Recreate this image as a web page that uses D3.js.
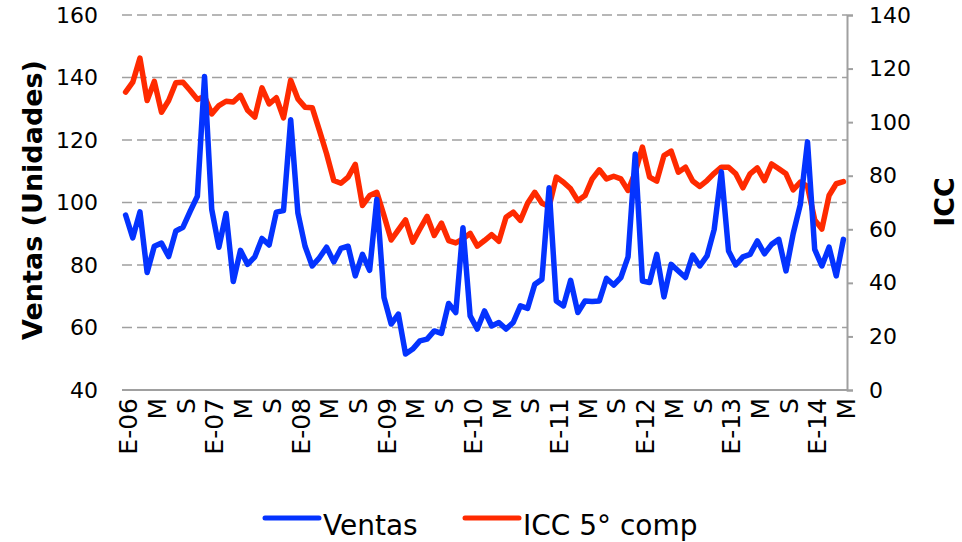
<!DOCTYPE html>
<html>
<head>
<meta charset="utf-8">
<script src="https://cdn.jsdelivr.net/npm/d3@7"></script>
<style>
  body { margin: 0; background: #fff; }
  text { font-family: "DejaVu Sans", sans-serif; fill: #000; }
</style>
</head>
<body>
<div id="chart"></div>
<script>
// monthly data, Jan 2006 .. May 2014
const ventas = [96, 88.7, 97, 77.6, 86, 87, 82.7, 90.9, 92.1, 97.2, 102, 140.3,
    97.8, 85.7, 96.5, 74.7, 84.7, 80.2, 82.6, 88.5, 86.4, 96.9, 97.4, 126.5,
    96.7, 86, 79.7, 82.3, 85.7, 81, 85.3, 86, 76.5, 83.4, 78.3, 101,
    69.6, 61.1, 64.3, 51.5, 53.1, 55.7, 56.3, 58.9, 58.1, 67.7, 64.8, 91.9,
    63.7, 59.5, 65.3, 60.5, 61.6, 59.5, 61.6, 66.9, 66.1, 73.8, 75.4, 104.7,
    68.5, 66.9, 75.1, 64.8, 68.5, 68.3, 68.5, 75.7, 73.6, 76, 82.6, 115.5,
    74.9, 74.4, 83.4, 69.8, 80.2, 78.1, 76, 83.2, 79.7, 82.9, 91.4, 109.8,
    84.5, 80, 82.6, 83.4, 87.7, 83.6, 86.6, 88.2, 78.1, 90, 99.4, 119.4,
    85, 79.7, 85.7, 76.5, 88.2];

const icc = [111.2, 114.9, 123.9, 108.1, 115.2, 103.7, 108.1, 114.7, 114.9, 111.8, 108.5, 109.6,
    103.1, 106.2, 107.8, 107.5, 110.0, 104.4, 101.9, 112.8, 106.8, 109.1, 101.6, 115.6,
    108.7, 105.6, 105.4, 96.9, 88.2, 78.2, 77.2, 79.5, 84.2, 68.9, 72.6, 73.8,
    65.1, 56.0, 59.8, 63.5, 55.2, 60.1, 64.8, 57.7, 62.3, 55.8, 54.9, 56.4,
    58.5, 53.7, 55.8, 58.0, 55.5, 64.5, 66.4, 63.3, 69.7, 73.8, 69.7, 68.5,
    79.5, 77.6, 75.1, 70.7, 72.6, 78.8, 82.2, 78.8, 79.8, 78.8, 74.5, 81.3,
    90.7, 79.5, 78.0, 87.5, 89.2, 81.3, 83.2, 78.0, 76.0, 78.2, 80.9, 83.2,
    83.2, 80.7, 75.5, 80.7, 82.9, 78.2, 84.4, 82.6, 80.7, 74.7, 77.6, 76.0,
    63.5, 60.1, 72.6, 77.0, 77.8];

// one label every 4 months (E = enero, M = mayo, S = septiembre)
const tickLabels = ["E-06", "M", "S", "E-07", "M", "S", "E-08", "M", "S", "E-09", "M", "S",
    "E-10", "M", "S", "E-11", "M", "S", "E-12", "M", "S", "E-13", "M", "S", "E-14", "M"];

const leftTicks = [40, 60, 80, 100, 120, 140, 160];
const rightTicks = [0, 20, 40, 60, 80, 100, 120, 140];

const width = 962;
const height = 542;
const plotL = 122, plotR = 847, plotT = 15, plotB = 390;
const blue = "#0433ff";
const red = "#ff2a00";
const gridColor = "#a0a0a0";

const svg = d3.select("#chart").append("svg")
    .attr("width", width)
    .attr("height", height);

const months = d3.range(ventas.length);

const x = d3.scalePoint()
    .domain(months)
    .range([plotL, plotR])
    .padding(0.5);

const yL = d3.scaleLinear().domain([40, 160]).range([plotB, plotT]);
const yR = d3.scaleLinear().domain([0, 140]).range([plotB, plotT]);

// dashed gridlines
svg.append("g")
    .selectAll("line")
    .data(leftTicks.slice(1))
    .join("line")
    .attr("x1", plotL)
    .attr("x2", plotR)
    .attr("y1", d => yL(d))
    .attr("y2", d => yL(d))
    .attr("stroke", gridColor)
    .attr("stroke-width", 1.6)
    .attr("stroke-dasharray", "10,5");

// bottom axis line
svg.append("line")
    .attr("x1", plotL).attr("x2", plotR + 1)
    .attr("y1", plotB).attr("y2", plotB)
    .attr("stroke", gridColor)
    .attr("stroke-width", 2);

// right axis
const axisR = svg.append("g")
    .attr("transform", `translate(${plotR},0)`)
    .call(d3.axisRight(yR).tickValues(rightTicks).tickSize(6).tickPadding(16).tickFormat(d3.format("d")));
axisR.select(".domain").attr("stroke", gridColor).attr("stroke-width", 2);
axisR.selectAll(".tick line").attr("stroke", gridColor).attr("stroke-width", 2);
axisR.selectAll("text")
    .attr("font-size", 22)
    .attr("font-family", "DejaVu Sans")
    .attr("fill", "#000");

// left tick labels
svg.append("g")
    .selectAll("text")
    .data(leftTicks)
    .join("text")
    .attr("x", 98)
    .attr("y", d => yL(d))
    .attr("dy", "0.35em")
    .attr("text-anchor", "end")
    .attr("font-size", 22)
    .text(d => d);

// x labels
svg.append("g")
    .selectAll("text")
    .data(tickLabels)
    .join("text")
    .attr("transform", (d, i) => `translate(${x(i * 4) + 3},${plotB + 8}) rotate(-90)`)
    .attr("dy", "0.35em")
    .attr("text-anchor", "end")
    .attr("font-size", 25)
    .text(d => d);

// axis titles
svg.append("text")
    .attr("transform", "translate(42,200) rotate(-90)")
    .attr("text-anchor", "middle")
    .attr("font-size", 27)
    .attr("font-weight", "bold")
    .text("Ventas (Unidades)");

svg.append("text")
    .attr("transform", "translate(954,202) rotate(-90)")
    .attr("text-anchor", "middle")
    .attr("font-size", 27)
    .attr("font-weight", "bold")
    .text("ICC");

// series
const lineL = d3.line().x((d, i) => x(i)).y(d => yL(d));
const lineR = d3.line().x((d, i) => x(i)).y(d => yR(d));

svg.append("path")
    .datum(icc)
    .attr("d", lineR)
    .attr("fill", "none")
    .attr("stroke", red)
    .attr("stroke-width", 5.5)
    .attr("stroke-linejoin", "round")
    .attr("stroke-linecap", "round");

svg.append("path")
    .datum(ventas)
    .attr("d", lineL)
    .attr("fill", "none")
    .attr("stroke", blue)
    .attr("stroke-width", 5.5)
    .attr("stroke-linejoin", "round")
    .attr("stroke-linecap", "round");

// legend
const legend = [
    {name: "Ventas", color: blue, x: 265},
    {name: "ICC 5° comp", color: red, x: 465}
];
const lg = svg.append("g")
    .selectAll("g")
    .data(legend)
    .join("g")
    .attr("transform", d => `translate(${d.x},518)`);
lg.append("line")
    .attr("x1", 0).attr("x2", 54)
    .attr("stroke", d => d.color)
    .attr("stroke-width", 5)
    .attr("stroke-linecap", "round");
lg.append("text")
    .attr("x", 58)
    .attr("y", 17)
    .attr("font-size", 28)
    .text(d => d.name);
</script>
</body>
</html>
